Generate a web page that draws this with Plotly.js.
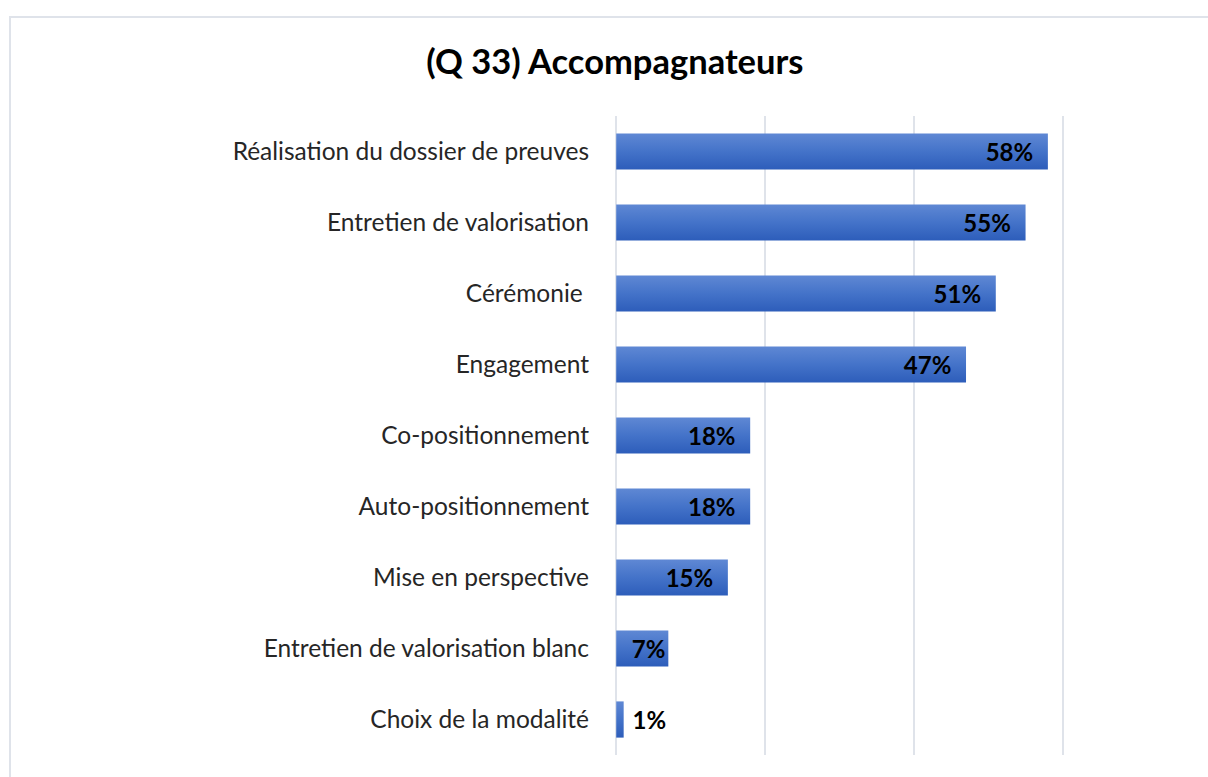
<!DOCTYPE html>
<html>
<head>
<meta charset="utf-8">
<script src="https://cdn.plot.ly/plotly-3.0.1.min.js"></script>
<style>
  html, body { margin: 0; padding: 0; background: #ffffff; }
  #wrap { position: relative; width: 1208px; height: 777px; overflow: hidden; }
  #chart { width: 1208px; height: 777px; }
  #frame { position: absolute; left: 9px; top: 16px; width: 1400px; height: 1000px;
           border: 2px solid #dfe3ea; box-sizing: border-box; pointer-events: none; }
</style>
</head>
<body>
<div id="wrap">
  <div id="chart"></div>
  <div id="frame"></div>
</div>
<script>
// ---- data ----
const categories = [
  "Réalisation du dossier de preuves",
  "Entretien de valorisation",
  "Cérémonie ",
  "Engagement",
  "Co-positionnement",
  "Auto-positionnement",
  "Mise en perspective",
  "Entretien de valorisation blanc",
  "Choix de la modalité"
];
const values = [58, 55, 51, 47, 18, 18, 15, 7, 1];
const titleText = "(Q 33) Accompagnateurs";
const xTicks = [0, 20, 40, 60];

// ---- labels (derived from values) ----
const NB = "\u00a0";
const labelText = values.map(v => {
  if (v < 2) return NB + v + "%";
  if (v < 10) return v + "%";
  return v + "%" + NB + NB;
});
const labelPos = values.map(v => (v < 2 ? "outside" : "inside"));

const FONT = "Lato, 'Liberation Sans', sans-serif";
const labelFont = { family: FONT, size: 24, color: "#000000", weight: "bold" };

const trace = {
  type: "bar",
  orientation: "h",
  y: categories,
  x: values,
  text: labelText,
  textposition: labelPos,
  insidetextanchor: "end",
  textangle: 0,
  constraintext: "none",
  cliponaxis: false,
  textfont: labelFont,
  insidetextfont: labelFont,
  outsidetextfont: labelFont,
  marker: { color: "#4472c4", line: { width: 0 } },
  hoverinfo: "y+x"
};

const layout = {
  width: 1208,
  height: 777,
  paper_bgcolor: "#ffffff",
  plot_bgcolor: "#ffffff",
  margin: { l: 614, r: 143, t: 116, b: 22, pad: 0 },
  bargap: 0.49,
  showlegend: false,
  title: {
    text: "<b>" + titleText + "</b>",
    font: { family: FONT, size: 34.5, color: "#000000" },
    xref: "container", x: 0.509, xanchor: "center",
    yref: "container", y: 1 - 62 / 777, yanchor: "middle"
  },
  xaxis: {
    range: [-0.3, 60.3],
    tickvals: xTicks,
    showticklabels: false,
    showgrid: true,
    gridcolor: "#dfe3ea",
    gridwidth: 2,
    zeroline: false,
    showline: false,
    ticks: "",
    fixedrange: true
  },
  yaxis: {
    type: "category",
    categoryorder: "array",
    categoryarray: categories,
    autorange: "reversed",
    showgrid: false,
    zeroline: false,
    showline: false,
    ticks: "",
    ticklabelstandoff: 24,
    tickfont: { family: FONT, size: 24.5, color: "#262626" },
    fixedrange: true
  }
};

Plotly.newPlot("chart", [trace], layout, { displayModeBar: false, staticPlot: true }).then(gd => {
  // soft vertical gradient on the bars, like the original
  const svg = gd.querySelector("svg.main-svg");
  const ns = "http://www.w3.org/2000/svg";
  let defs = svg.querySelector("defs");
  if (!defs) { defs = document.createElementNS(ns, "defs"); svg.insertBefore(defs, svg.firstChild); }
  const grad = document.createElementNS(ns, "linearGradient");
  grad.setAttribute("id", "barGrad");
  grad.setAttribute("x1", "0"); grad.setAttribute("y1", "0");
  grad.setAttribute("x2", "0"); grad.setAttribute("y2", "1");
  [["0", "#5f88d4"], ["0.5", "#4473c9"], ["1", "#2d5dba"]].forEach(([o, c]) => {
    const s = document.createElementNS(ns, "stop");
    s.setAttribute("offset", o); s.setAttribute("stop-color", c);
    grad.appendChild(s);
  });
  defs.appendChild(grad);
  gd.querySelectorAll(".bars .point path").forEach(p => { p.style.fill = "url(#barGrad)"; });
});
</script>
</body>
</html>
